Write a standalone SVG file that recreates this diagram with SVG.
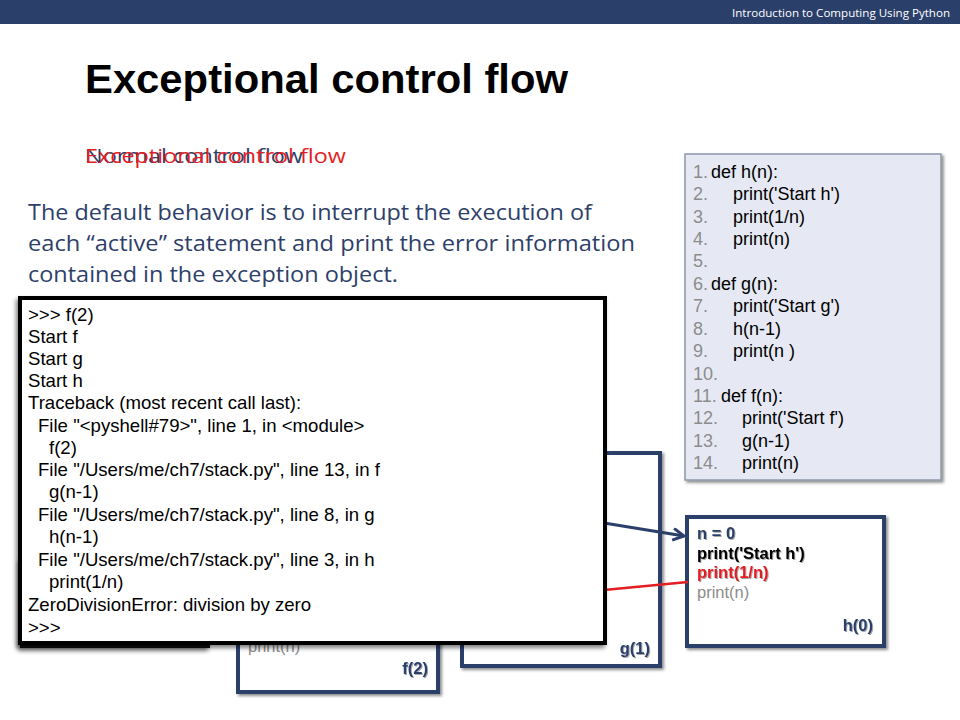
<svg xmlns="http://www.w3.org/2000/svg" width="960" height="720" viewBox="0 0 960 720">
<style>
.hdr{font-family:"Open Sans","Liberation Sans",sans-serif;font-size:11px;fill:#fff}
.title{font-family:"Liberation Sans",sans-serif;font-weight:bold;font-size:41px;fill:#000}
.sub{font-family:"Open Sans","Liberation Sans",sans-serif;font-size:20px}
.body{font-family:"Open Sans","Liberation Sans",sans-serif;font-size:21px;fill:#2E3F6A}
.code{font-family:"Liberation Sans",Arial,sans-serif;font-size:18px;fill:#000}
.num{fill:#8C8C8C}
.con{font-family:"Liberation Sans",Arial,sans-serif;font-size:18.6px;fill:#000}
.frame{fill:#fff;stroke:#2B3F6B;stroke-width:4}
.ft{font-family:"Liberation Sans",Arial,sans-serif;font-size:16.5px}
.lbl{font-family:"Liberation Sans",Arial,sans-serif;font-size:16.5px;font-weight:bold;fill:#2B3F6B}
</style>
<defs>
<filter id="sh" x="-10%" y="-10%" width="120%" height="120%">
<feDropShadow dx="2" dy="2" stdDeviation="1.5" flood-color="#000" flood-opacity="0.45"/>
</filter>
<filter id="sh2" x="-10%" y="-10%" width="120%" height="120%">
<feDropShadow dx="-2" dy="3" stdDeviation="2" flood-color="#000" flood-opacity="0.5"/>
</filter>
<filter id="ts" x="-5%" y="-20%" width="110%" height="140%">
<feDropShadow dx="1" dy="1" stdDeviation="0.6" flood-color="#000" flood-opacity="0.35"/>
</filter>
<marker id="arr" markerUnits="userSpaceOnUse" markerWidth="20" markerHeight="20" refX="12" refY="7" orient="auto">
<path d="M1,1 L12,7 L1,13" fill="none" stroke="#2B3F6B" stroke-width="3"/>
</marker>
</defs>

<rect x="0" y="0" width="960" height="24" fill="#2B3F6B"/>
<text class="hdr" x="950" y="17" text-anchor="end" textLength="218" lengthAdjust="spacingAndGlyphs">Introduction to Computing Using Python</text>

<text class="title" x="85" y="93" textLength="483" lengthAdjust="spacingAndGlyphs">Exceptional control flow</text>
<text class="sub" x="85" y="163" fill="#2E3F6A" textLength="218" lengthAdjust="spacingAndGlyphs">Normal control flow</text>
<text class="sub" x="85" y="163" fill="#E31E24" textLength="261" lengthAdjust="spacingAndGlyphs">Exceptional control flow</text>

<text class="body" x="28" y="220" textLength="564" lengthAdjust="spacingAndGlyphs">The default behavior is to interrupt the execution of</text>
<text class="body" x="28" y="251" textLength="607" lengthAdjust="spacingAndGlyphs">each “active” statement and print the error information</text>
<text class="body" x="28" y="282" textLength="370" lengthAdjust="spacingAndGlyphs">contained in the exception object.</text>

<g id="source">
<rect x="685" y="154" width="256" height="326" fill="#E6E9F3" stroke="#8E97AB" stroke-width="1.5" filter="url(#sh)"/>
<text class="code" y="178"><tspan class="num" x="693">1.</tspan><tspan x="711">def h(n):</tspan></text>
<text class="code" y="200"><tspan class="num" x="693">2.</tspan><tspan x="733">print('Start h')</tspan></text>
<text class="code" y="223"><tspan class="num" x="693">3.</tspan><tspan x="733">print(1/n)</tspan></text>
<text class="code" y="245"><tspan class="num" x="693">4.</tspan><tspan x="733">print(n)</tspan></text>
<text class="code" y="267"><tspan class="num" x="693">5.</tspan></text>
<text class="code" y="290"><tspan class="num" x="693">6.</tspan><tspan x="711">def g(n):</tspan></text>
<text class="code" y="312"><tspan class="num" x="693">7.</tspan><tspan x="733">print('Start g')</tspan></text>
<text class="code" y="335"><tspan class="num" x="693">8.</tspan><tspan x="733">h(n-1)</tspan></text>
<text class="code" y="357"><tspan class="num" x="693">9.</tspan><tspan x="733">print(n )</tspan></text>
<text class="code" y="380"><tspan class="num" x="693">10.</tspan></text>
<text class="code" y="402"><tspan class="num" x="693">11.</tspan><tspan x="721">def f(n):</tspan></text>
<text class="code" y="424"><tspan class="num" x="693">12.</tspan><tspan x="742">print('Start f')</tspan></text>
<text class="code" y="447"><tspan class="num" x="693">13.</tspan><tspan x="742">g(n-1)</tspan></text>
<text class="code" y="469"><tspan class="num" x="693">14.</tspan><tspan x="742">print(n)</tspan></text>
</g>

<g id="frame-f">
<rect class="frame" x="238" y="420" width="200" height="272" filter="url(#sh)"/>
<text class="ft" x="248" y="652" fill="#8C8C8C">print(n)</text>
<text class="lbl" x="428" y="674" text-anchor="end" filter="url(#ts)">f(2)</text>
</g>

<g id="frame-g">
<rect class="frame" x="462" y="453" width="198" height="213" filter="url(#sh)"/>
<text class="lbl" x="650" y="654" text-anchor="end" filter="url(#ts)">g(1)</text>
</g>

<g id="frame-h">
<rect class="frame" x="687" y="517" width="197" height="129" filter="url(#sh)"/>
<text class="ft" x="697" y="539" font-weight="bold" fill="#2B3F6B" filter="url(#ts)">n = 0</text>
<text class="ft" x="697" y="559" font-weight="bold" fill="#000" filter="url(#ts)">print('Start h')</text>
<text class="ft" x="697" y="578" font-weight="bold" fill="#E31E24" filter="url(#ts)">print(1/n)</text>
<text class="ft" x="697" y="598" fill="#8C8C8C">print(n)</text>
<text class="lbl" x="873" y="631" text-anchor="end" filter="url(#ts)">h(0)</text>
</g>

<g id="connectors">
<line x1="604" y1="523" x2="684" y2="536" stroke="#2B3F6B" stroke-width="3" marker-end="url(#arr)"/>
<line x1="604" y1="590" x2="688" y2="582" stroke="#E31E24" stroke-width="2.5"/>
</g>

<g id="shell-behind">
<rect x="22" y="560" width="186" height="86" fill="#fff" stroke="#111" stroke-width="4" filter="url(#sh2)"/>
</g>

<g id="console">
<rect x="20" y="298" width="585" height="345" fill="#fff" stroke="#000" stroke-width="4" filter="url(#sh2)"/>
<text class="con" x="28" y="321">&gt;&gt;&gt; f(2)</text>
<text class="con" x="28" y="343">Start f</text>
<text class="con" x="28" y="365">Start g</text>
<text class="con" x="28" y="387">Start h</text>
<text class="con" x="28" y="409">Traceback (most recent call last):</text>
<text class="con" x="38" y="432">File "&lt;pyshell#79&gt;", line 1, in &lt;module&gt;</text>
<text class="con" x="49" y="454">f(2)</text>
<text class="con" x="38" y="476">File "/Users/me/ch7/stack.py", line 13, in f</text>
<text class="con" x="49" y="498">g(n-1)</text>
<text class="con" x="38" y="521">File "/Users/me/ch7/stack.py", line 8, in g</text>
<text class="con" x="49" y="543">h(n-1)</text>
<text class="con" x="38" y="566">File "/Users/me/ch7/stack.py", line 3, in h</text>
<text class="con" x="49" y="588">print(1/n)</text>
<text class="con" x="28" y="611">ZeroDivisionError: division by zero</text>
<text class="con" x="28" y="634">&gt;&gt;&gt;</text>
</g>
</svg>
